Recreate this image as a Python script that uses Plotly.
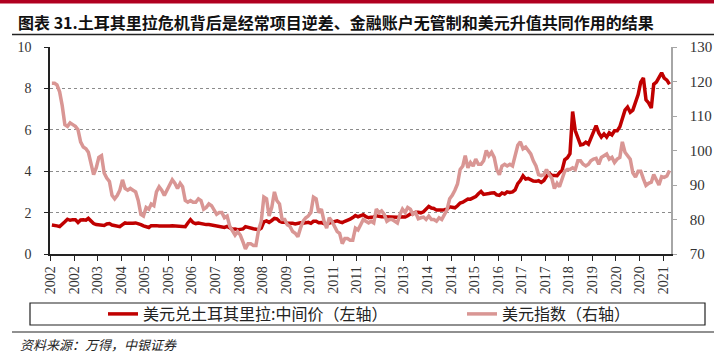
import pandas as pd
import plotly.graph_objects as go

# ---------------- data (monthly) ----------------
usdtry = [
    # 2002
    1.40, 1.36, 1.36, 1.33, 1.42, 1.56, 1.68, 1.63, 1.66, 1.66, 1.52, 1.64,
    # 2003
    1.65, 1.63, 1.72, 1.60, 1.47, 1.42, 1.41, 1.40, 1.38, 1.45, 1.47, 1.40,
    # 2004
    1.38, 1.33, 1.32, 1.42, 1.50, 1.48, 1.47, 1.49, 1.50, 1.47, 1.42, 1.36,
    # 2005
    1.33, 1.28, 1.37, 1.38, 1.37, 1.35, 1.34, 1.34, 1.35, 1.35, 1.36, 1.35,
    # 2006
    1.33, 1.32, 1.35, 1.32, 1.50, 1.66, 1.52, 1.47, 1.50, 1.46, 1.45, 1.42,
    # 2007
    1.42, 1.40, 1.38, 1.36, 1.33, 1.31, 1.28, 1.33, 1.24, 1.20, 1.21, 1.17,
    # 2008
    1.19, 1.21, 1.32, 1.28, 1.23, 1.22, 1.20, 1.17, 1.25, 1.55, 1.60, 1.53,
    # 2009
    1.62, 1.72, 1.70, 1.58, 1.53, 1.54, 1.48, 1.49, 1.48, 1.45, 1.49, 1.51,
    # 2010
    1.49, 1.52, 1.53, 1.48, 1.58, 1.58, 1.51, 1.52, 1.45, 1.42, 1.50, 1.54,
    # 2011
    1.58, 1.60, 1.55, 1.52, 1.58, 1.62, 1.68, 1.76, 1.86, 1.80, 1.87, 1.90,
    # 2012
    1.80, 1.75, 1.78, 1.79, 1.85, 1.81, 1.80, 1.80, 1.79, 1.79, 1.79, 1.78,
    # 2013
    1.77, 1.80, 1.81, 1.79, 1.85, 1.93, 1.94, 2.02, 2.02, 1.99, 2.04, 2.15,
    # 2014
    2.30, 2.22, 2.20, 2.12, 2.10, 2.12, 2.14, 2.17, 2.28, 2.24, 2.23, 2.33,
    # 2015
    2.46, 2.50, 2.60, 2.66, 2.65, 2.69, 2.77, 2.91, 3.02, 2.88, 2.92, 2.92,
    # 2016
    2.95, 2.96, 2.86, 2.83, 2.95, 2.90, 3.00, 2.97, 3.00, 3.10, 3.40, 3.55,
    # 2017
    3.78, 3.62, 3.65, 3.57, 3.52, 3.51, 3.54, 3.46, 3.55, 3.75, 3.90, 3.80,
    # 2018
    3.77, 3.78, 3.93, 4.05, 4.55, 4.65, 4.85, 6.88, 5.95, 5.60, 5.27, 5.30,
    # 2019
    5.40, 5.30, 5.60, 5.95, 6.20, 5.85, 5.65, 5.80, 5.65, 5.85, 5.75, 5.95,
    # 2020
    5.95, 6.15, 6.50, 6.95, 7.10, 6.85, 6.95, 7.35, 7.70, 8.30, 8.50, 7.45,
    # 2021
    7.30, 7.05, 8.20, 8.30, 8.55, 8.75, 8.50, 8.40, 8.20,
]

dxy = [
    # 2002
    119.5, 119.5, 119.0, 117.0, 113.0, 107.5, 107.0, 108.0, 107.5, 107.0, 106.0, 102.5,
    # 2003
    101.0, 100.5, 99.5, 96.5, 93.0, 95.0, 98.0, 98.5, 93.5, 92.0, 91.0, 87.0,
    # 2004
    86.0, 87.0, 88.5, 91.5, 89.0, 88.5, 89.0, 88.5, 88.0, 85.5, 81.5, 81.0,
    # 2005
    83.5, 83.0, 84.5, 84.0, 88.0, 89.5, 88.5, 87.0, 88.5, 89.5, 91.5, 90.5,
    # 2006
    89.0, 90.5, 89.5, 85.5, 85.0, 85.5, 85.0, 85.0, 86.0, 85.5, 83.0, 83.5,
    # 2007
    84.5, 84.0, 83.0, 81.5, 82.0, 82.0, 80.5, 81.0, 78.0, 76.5, 75.5, 76.5,
    # 2008
    75.5, 73.5, 71.5, 73.0, 73.0, 72.5, 72.5, 77.0, 79.5, 86.5, 86.0, 81.0,
    # 2009
    83.5, 88.0, 85.5, 84.5, 80.0, 80.0, 78.5, 78.0, 76.5, 76.0, 75.0, 77.5,
    # 2010
    79.5, 80.5, 81.0, 82.0, 86.5, 86.0, 82.0, 83.0, 79.5, 77.5, 80.5, 79.5,
    # 2011
    78.0, 76.5, 76.0, 73.0, 74.5, 74.5, 74.0, 74.0, 77.5, 77.0, 78.5, 80.0,
    # 2012
    79.5, 79.0, 79.5, 79.0, 83.0, 82.0, 82.5, 81.5, 79.5, 80.0, 80.0, 79.5,
    # 2013
    79.0, 81.5, 83.0, 82.0, 83.5, 83.0, 81.5, 82.0, 80.2, 80.5, 80.7, 80.0,
    # 2014
    81.0, 80.0, 80.0, 79.5, 80.5, 80.0, 81.5, 82.8, 86.0, 87.0, 88.5, 90.3,
    # 2015
    94.5, 95.5, 98.5, 95.0, 96.5, 95.5, 97.5, 96.0, 96.0, 97.0, 100.0, 98.5,
    # 2016
    99.5, 98.0, 94.5, 93.0, 95.5, 96.0, 95.5, 96.0, 95.5, 98.5, 101.5, 102.5,
    # 2017
    100.5, 101.0, 100.0, 99.0, 97.0, 95.5, 93.0, 92.7, 93.0, 94.5, 93.0, 92.0,
    # 2018
    89.0, 90.5, 89.5, 91.5, 94.0, 94.5, 94.5, 95.0, 94.5, 97.0, 97.0, 96.0,
    # 2019
    95.5, 96.0, 97.0, 97.5, 97.7, 96.0, 98.0, 98.5, 99.0, 97.5, 98.0, 96.5,
    # 2020
    97.5, 98.0, 102.5, 99.5, 98.5, 97.5, 93.5, 92.3, 94.0, 94.0, 91.8, 89.9,
    # 2021
    90.5, 90.8, 93.0, 91.3, 90.0, 92.4, 92.2, 92.6, 94.2,
]

dates = pd.date_range("2002-01-01", periods=len(usdtry), freq="MS") + pd.Timedelta(days=14)

name_try = "美元兑土耳其里拉:中间价（左轴）"
name_dxy = "美元指数（右轴）"
title_text = "图表 31.土耳其里拉危机背后是经常项目逆差、金融账户无管制和美元升值共同作用的结果"
source_text = "资料来源：万得，中银证券"

RED = "#C00000"
PINK = "#D99694"
SERIF = "Liberation Serif, Times New Roman, serif"
CJK = "Noto Sans CJK SC"

# ---------------- geometry helpers (pixel -> paper) ----------------
W, H = 728, 355
L, R, T, B = 50, 57, 47, 101
PW, PH = W - L - R, H - T - B


def px(x):
    return (x - L) / PW


def py(y):
    return (H - B - y) / PH


fig = go.Figure()
fig.add_trace(go.Scatter(x=dates, y=usdtry, name=name_try, mode="lines",
                         line=dict(color=RED, width=3.5), yaxis="y", legend="legend"))
fig.add_trace(go.Scatter(x=dates, y=dxy, name=name_dxy, mode="lines",
                         line=dict(color=PINK, width=3.5), yaxis="y2", legend="legend2"))

fig.update_layout(
    width=W, height=H,
    margin=dict(l=L, r=R, t=T, b=B, pad=0),
    paper_bgcolor="white", plot_bgcolor="white",
    font=dict(family=SERIF, color="#222"),
    xaxis=dict(
        type="date",
        range=["2001-12-24", "2021-10-02"],
        tick0="2002-01-01", dtick="M9", tickformat="%Y",
        tickangle=-90, tickfont=dict(family=SERIF, size=14, color="#333"),
        ticks="outside", ticklen=5, tickcolor="#222",
        showline=True, linecolor="#222", linewidth=1.5,
        showgrid=False, zeroline=False,
    ),
    yaxis=dict(
        range=[0, 10], dtick=2, tick0=0,
        tickfont=dict(family=SERIF, size=14, color="#333"),
        ticks="outside", ticklen=4, tickcolor="#222",
        showline=True, linecolor="#222", linewidth=1.5,
        showgrid=True, gridcolor="#8c8c8c", griddash="dot", gridwidth=1,
        zeroline=False, ticklabelstandoff=10,
    ),
    yaxis2=dict(
        range=[70, 130], dtick=10, tick0=70, overlaying="y", side="right",
        tickfont=dict(family=SERIF, size=15, color="#333"),
        ticks="outside", ticklen=4, tickcolor="#a6a6a6",
        showline=True, linecolor="#a6a6a6", linewidth=1.5,
        showgrid=False, zeroline=False, ticklabelstandoff=10,
    ),
    showlegend=True,
    legend=dict(orientation="h", x=px(103), xanchor="left", y=py(314), yanchor="middle",
                font=dict(family=CJK, size=16, color="#222"), bgcolor="rgba(0,0,0,0)",
                borderwidth=0),
    legend2=dict(orientation="h", x=px(462), xanchor="left", y=py(314), yanchor="middle",
                 font=dict(family=CJK, size=16, color="#222"), bgcolor="rgba(0,0,0,0)",
                 borderwidth=0),
)

shapes = [
    # top red bar
    dict(type="rect", xref="paper", yref="paper", x0=px(0), x1=px(714), y0=py(0), y1=py(3.5),
         fillcolor="#B00020", line=dict(width=0), layer="above"),
    # title underline
    dict(type="line", xref="paper", yref="paper", x0=px(12), x1=px(714), y0=py(34.5), y1=py(34.5),
         line=dict(color="#222", width=1.5)),
    # legend box
    dict(type="rect", xref="paper", yref="paper", x0=px(30), x1=px(705), y0=py(303), y1=py(325),
         line=dict(color="#222", width=1.2), fillcolor="rgba(0,0,0,0)"),
    # bottom rule
    dict(type="line", xref="paper", yref="paper", x0=px(12), x1=px(714), y0=py(332), y1=py(332),
         line=dict(color="#222", width=1.2)),
]
fig.update_layout(shapes=shapes)

fig.add_annotation(text="<b>" + title_text + "</b>", xref="paper", yref="paper",
                   x=px(16), y=py(22), xanchor="left", yanchor="middle", showarrow=False,
                   font=dict(family=CJK, size=16, color="#111"))
fig.add_annotation(text="<i>" + source_text + "</i>", xref="paper", yref="paper",
                   x=px(18), y=py(344), xanchor="left", yanchor="middle", showarrow=False,
                   font=dict(family=CJK, size=13, color="#222"))

fig.write_html("out.html", config={"displayModeBar": False},
               post_script="document.body.style.margin='0';document.body.style.overflow='hidden';")
